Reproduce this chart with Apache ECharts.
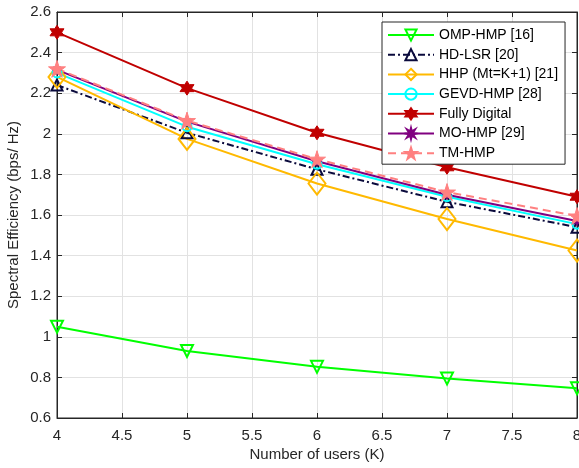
<!DOCTYPE html>
<html>
<head>
<meta charset="utf-8">
<script src="https://cdn.jsdelivr.net/npm/echarts@6/dist/echarts.min.js"></script>
<style>
html,body{margin:0;padding:0;background:#fff;}
#chart{width:579px;height:468px;}
</style>
</head>
<body>
<div id="chart"></div>
<script>
// ---- data ----
var users = [4, 5, 6, 7, 8];
var seriesNames = ['OMP-HMP [16]', 'HD-LSR [20]', 'HHP (Mt=K+1) [21]', 'GEVD-HMP [28]', 'Fully Digital', 'MO-HMP [29]', 'TM-HMP'];
var ompHmp      = [1.05, 0.93, 0.852, 0.795, 0.746];
var hdLsr       = [2.24, 2.005, 1.825, 1.665, 1.54];
var hhp         = [2.28, 1.975, 1.755, 1.58, 1.425];
var gevdHmp     = [2.30, 2.035, 1.85, 1.69, 1.555];
var fullyDigital= [2.50, 2.225, 2.005, 1.835, 1.69];
var moHmp       = [2.315, 2.06, 1.865, 1.70, 1.57];
var tmHmp       = [2.32, 2.065, 1.875, 1.713, 1.595];
var xTicks = [4, 4.5, 5, 5.5, 6, 6.5, 7, 7.5, 8];
var yTicks = [0.6, 0.8, 1, 1.2, 1.4, 1.6, 1.8, 2, 2.2, 2.4, 2.6];

function pairs(vals){ return users.map(function(u,i){ return [u, vals[i]]; }); }

var hexagram = 'path://M0,-10L2.887,-5L8.66,-5L5.774,0L8.66,5L2.887,5L0,10L-2.887,5L-8.66,5L-5.774,0L-8.66,-5L-2.887,-5Z';
var pentagram = 'path://M0,-10L2.245,-3.09L9.511,-3.09L3.633,1.18L5.878,8.09L0,3.82L-5.878,8.09L-3.633,1.18L-9.511,-3.09L-2.245,-3.09Z';
var asterisk = 'path://M10,0L3.70,1.53L7.07,7.07L1.53,3.70L0,10L-1.53,3.70L-7.07,7.07L-3.70,1.53L-10,0L-3.70,-1.53L-7.07,-7.07L-1.53,-3.70L0,-10L1.53,-3.70L7.07,-7.07L3.70,-1.53Z';

function mk(name, vals, color, symbol, size, opts){
  opts = opts || {};
  return {
    name: name,
    type: 'line',
    data: pairs(vals),
    symbol: symbol,
    symbolSize: size,
    symbolRotate: opts.rotate || 0,
    showAllSymbol: true,
    clip: false,
    lineStyle: {color: color, width: 2, type: opts.dash || 'solid'},
    itemStyle: opts.filled ? {color: color, borderColor: color, borderWidth: 1}
                           : {color: 'rgba(255,255,255,0)', borderColor: color, borderWidth: 2},
    emphasis: {disabled: true},
    animation: false
  };
}

var txt = '#262626';
var font = 'Liberation Sans, Arial, Helvetica, sans-serif';

var chart = echarts.init(document.getElementById('chart'));
chart.setOption({
  backgroundColor: '#fff',
  animation: false,
  grid: {left: 57, right: 2, top: 12, bottom: 50, show: true, borderColor: txt, borderWidth: 1,
         backgroundColor: 'transparent', containLabel: false, outerBoundsMode: 'none'},
  legend: {
    data: seriesNames,
    orient: 'vertical',
    left: 382, top: 22,
    padding: [6, 7, 4, 5],
    itemWidth: 46, itemHeight: 14, itemGap: 5.7,
    backgroundColor: '#fff',
    borderColor: txt, borderWidth: 1,
    textStyle: {fontSize: 14, color: '#000', fontFamily: font},
    selectedMode: false
  },
  xAxis: [{
    type: 'value', min: 4, max: 8, interval: 0.5,
    name: 'Number of users (K)', nameLocation: 'middle', nameGap: 29, nameMoveOverlap: false,
    nameTextStyle: {fontSize: 15, color: txt, fontFamily: font},
    axisLine: {show: true, lineStyle: {color: txt}},
    axisTick: {show: true, inside: true, length: 5, lineStyle: {color: txt}},
    axisLabel: {fontSize: 15, color: txt, fontFamily: font, margin: 10, hideOverlap: false},
    splitLine: {show: true, lineStyle: {color: '#e2e2e2', width: 1}}
  }, {
    type: 'value', min: 4, max: 8, interval: 0.5, position: 'top',
    axisLine: {show: true, lineStyle: {color: txt}},
    axisTick: {show: true, inside: true, length: 5, lineStyle: {color: txt}},
    axisLabel: {show: false}, splitLine: {show: false}
  }],
  yAxis: [{
    type: 'value', min: 0.6, max: 2.6, interval: 0.2,
    name: 'Spectral Efficiency (bps/ Hz)', nameLocation: 'middle', nameGap: 36, nameMoveOverlap: false,
    nameTextStyle: {fontSize: 15, color: txt, fontFamily: font},
    axisLine: {show: true, lineStyle: {color: txt}},
    axisTick: {show: true, inside: true, length: 5, lineStyle: {color: txt}},
    axisLabel: {fontSize: 15, color: txt, fontFamily: font, margin: 6,
      formatter: function(v){ return String(Math.round(v*10)/10); }},
    splitLine: {show: true, lineStyle: {color: '#e2e2e2', width: 1}}
  }, {
    type: 'value', min: 0.6, max: 2.6, interval: 0.2, position: 'right',
    axisLine: {show: true, lineStyle: {color: txt}},
    axisTick: {show: true, inside: true, length: 5, lineStyle: {color: txt}},
    axisLabel: {show: false}, splitLine: {show: false}
  }],
  series: [
    mk(seriesNames[0], ompHmp, '#00ff00', 'triangle', 12, {rotate: 180}),
    mk(seriesNames[1], hdLsr, '#0a0a3c', 'triangle', 11, {dash: [7, 3, 2, 3]}),
    mk(seriesNames[2], hhp, '#ffb900', 'diamond', [17, 22]),
    mk(seriesNames[3], gevdHmp, '#00ffff', 'circle', 9),
    mk(seriesNames[4], fullyDigital, '#c00000', hexagram, 14, {filled: true}),
    mk(seriesNames[5], moHmp, '#800080', asterisk, 9, {filled: true}),
    mk(seriesNames[6], tmHmp, '#ff8080', pentagram, 17, {filled: true, dash: [8, 5]})
  ]
});
</script>
</body>
</html>
